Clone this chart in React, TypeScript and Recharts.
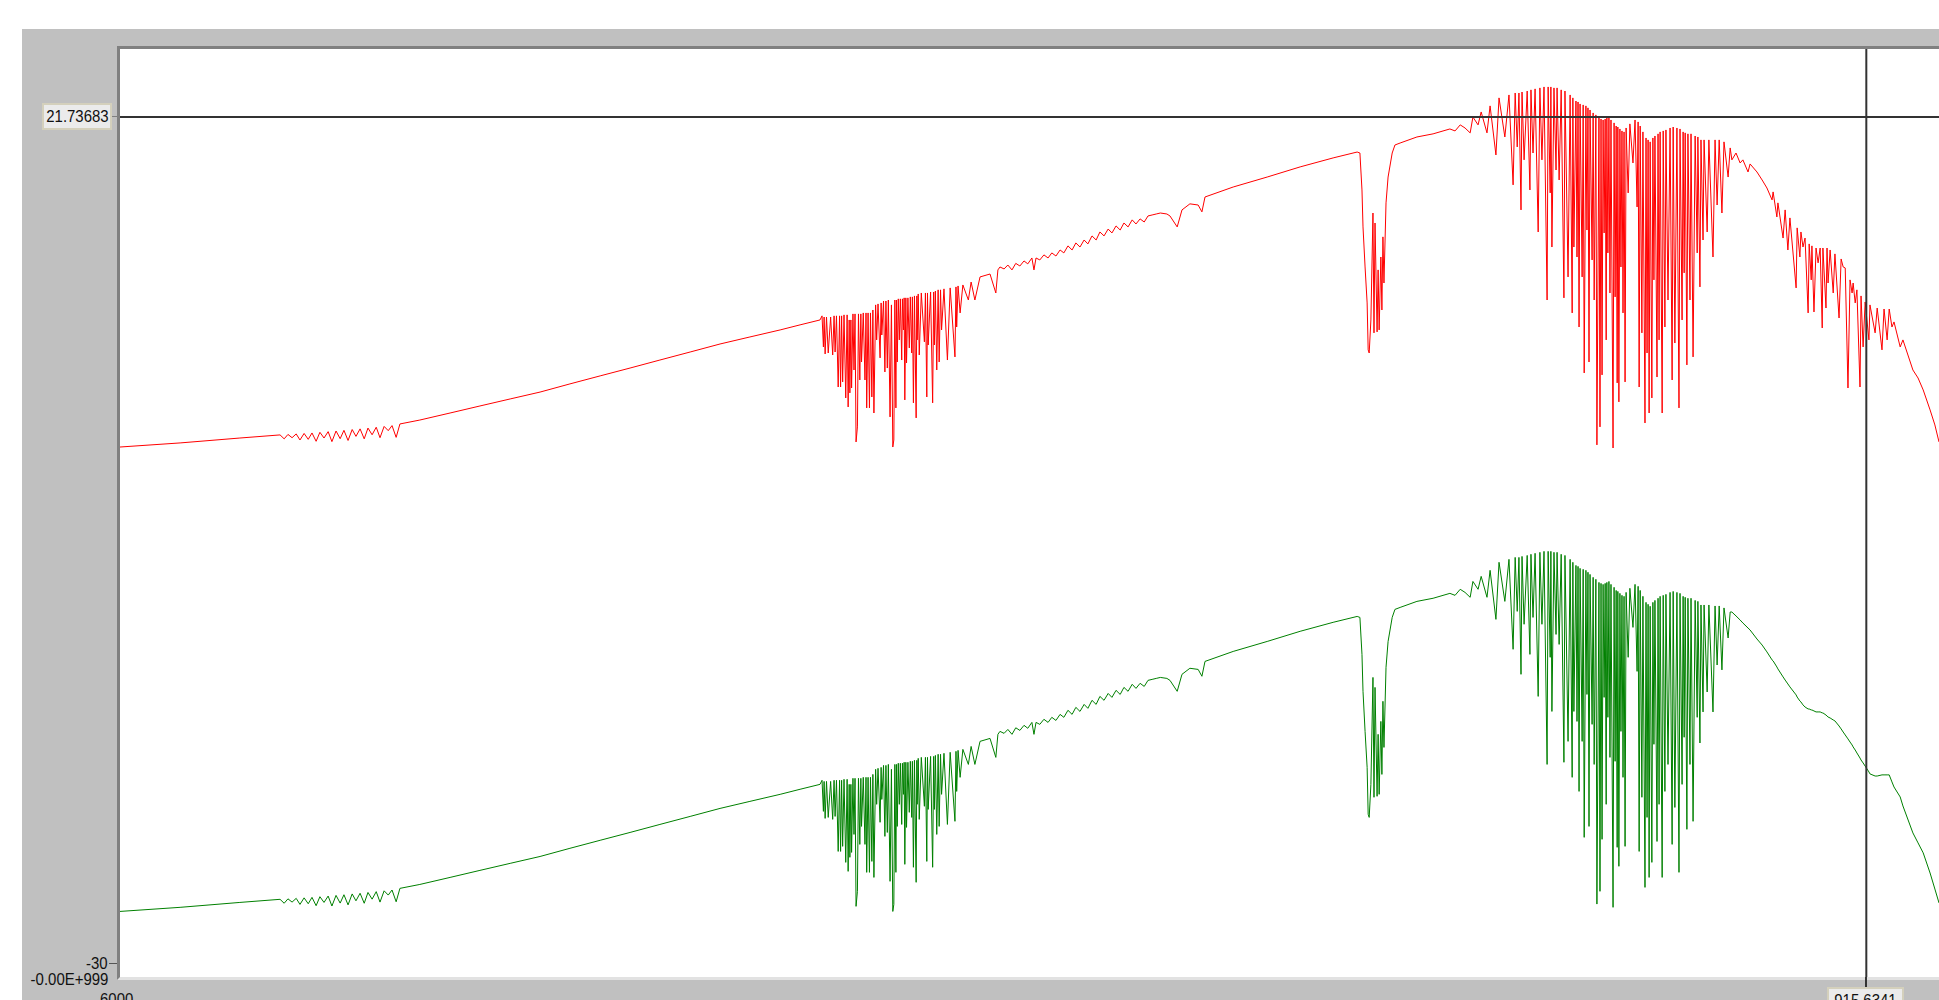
import { Line, LineChart, ReferenceLine, XAxis, YAxis } from "recharts";

// wavenumber grid and the two traces, split by spectral region
const wnBaseline = [
  6000, 5825, 5651,
  5534, 5522, 5511, 5499, 5487, 5476, 5464, 5452, 5441, 5429,
  5418, 5406, 5394, 5383, 5371, 5359, 5348, 5336, 5324, 5313,
  5301, 5289, 5278, 5266, 5254, 5243, 5231, 5219, 5208, 5196,
  5185, 5127, 5039, 4952, 4864, 4777, 4690, 4602, 4515, 4428,
  4340, 4253, 4166, 4078, 4020, 3962,
];
const topBaseline = [
  1.55, 1.8, 2.1,
  2.29, 2.05, 2.32, 2.12, 2.35, 1.98, 2.38, 2.02, 2.41, 1.9,
  2.45, 2.1, 2.49, 1.88, 2.53, 2.06, 2.57, 1.95, 2.62, 2.2,
  2.66, 2.05, 2.71, 2.3, 2.76, 2.12, 2.81, 2.55, 2.86, 2.14,
  2.96, 3.2, 3.63, 4.06, 4.49, 4.91, 5.41, 5.9, 6.38, 6.87,
  7.36, 7.85, 8.28, 8.71, 9.02, 9.32,
];
const bottomBaseline = [
  -26.85, -26.6, -26.3,
  -26.11, -26.35, -26.08, -26.28, -26.05, -26.42, -26.02, -26.38, -25.99, -26.5,
  -25.95, -26.3, -25.91, -26.52, -25.87, -26.34, -25.83, -26.45, -25.78, -26.2,
  -25.74, -26.35, -25.69, -26.1, -25.64, -26.28, -25.59, -25.85, -25.54, -26.26,
  -25.44, -25.2, -24.77, -24.34, -23.91, -23.49, -22.99, -22.5, -22.02, -21.53,
  -21.04, -20.55, -20.12, -19.69, -19.38, -19.08,
];

const wnStretch = [
  3956, 3952, 3950, 3947, 3943, 3938, 3931, 3925, 3921, 3918,
  3914, 3909, 3905, 3902, 3899, 3896, 3892, 3887, 3883, 3880,
  3877, 3875, 3872, 3870, 3866, 3863, 3860, 3857, 3853, 3850,
  3846, 3843, 3841, 3836, 3831, 3828, 3826, 3822, 3818, 3815,
  3811, 3808, 3805, 3800, 3797, 3793, 3787, 3784, 3782, 3777,
  3773, 3770, 3766, 3763, 3758, 3754, 3750, 3747, 3744, 3741,
  3739, 3737, 3734, 3731, 3728, 3724, 3722, 3719, 3717, 3715,
  3712, 3710, 3706, 3702, 3699, 3695, 3693, 3690, 3687, 3682,
  3680, 3679, 3676, 3673, 3667, 3658, 3655, 3651, 3649, 3647,
  3640, 3634, 3631, 3629, 3626, 3622, 3618, 3615, 3611, 3608,
  3601, 3591, 3583, 3569, 3566, 3564, 3560, 3554, 3546, 3530,
  3522, 3511, 3496, 3467, 3450, 3444, 3438,
];
const topStretch = [
  9.57, 7.67, 9.5, 7.24, 9.5, 7.3, 9.5, 7.18, 9.57, 7.36,
  9.57, 5.22, 9.57, 5.22, 9.57, 5.53, 9.63, 4.55, 9.63, 4.0,
  9.32, 4.86, 9.32, 5.16, 9.69, 6.26, 9.69, 1.86, 2.78, 9.69,
  5.65, 9.69, 6.75, 9.75, 5.65, 9.75, 3.94, 9.75, 3.94, 9.75,
  4.61, 9.93, 3.63, 10.24, 8.1, 10.3, 7.0, 10.36, 8.4, 10.48,
  6.14, 10.48, 6.38, 10.54, 3.39, 10.24, 1.55, 1.98, 10.54, 3.94,
  10.54, 6.75, 10.61, 8.1, 10.61, 6.87, 10.61, 8.71, 10.67, 4.43,
  10.67, 6.69, 10.67, 7.61, 10.73, 7.3, 10.73, 4.25, 10.79, 3.33,
  10.79, 8.1, 10.91, 7.18, 10.97, 7.98, 10.97, 4.61, 10.97, 7.79,
  11.03, 4.25, 11.03, 7.79, 11.09, 6.26, 11.16, 6.75, 11.16, 8.71,
  11.22, 6.87, 11.28, 7.06, 11.34, 8.89, 11.4, 9.75, 11.46, 10.54,
  11.64, 10.54, 11.95, 12.13, 10.97, 12.38, 12.56,
];
const bottomStretch = [
  -18.83, -20.73, -18.9, -21.16, -18.9, -21.1, -18.9, -21.22, -18.83, -21.04,
  -18.83, -23.18, -18.83, -23.18, -18.83, -22.87, -18.77, -23.85, -18.77, -24.4,
  -19.08, -23.54, -19.08, -23.24, -18.71, -22.14, -18.71, -26.54, -25.62, -18.71,
  -22.75, -18.71, -21.65, -18.65, -22.75, -18.65, -24.46, -18.65, -24.46, -18.65,
  -23.79, -18.47, -24.77, -18.16, -20.3, -18.1, -21.4, -18.04, -20.0, -17.92,
  -22.26, -17.92, -22.02, -17.86, -25.01, -18.16, -26.85, -26.42, -17.86, -24.46,
  -17.86, -21.65, -17.79, -20.3, -17.79, -21.53, -17.79, -19.69, -17.73, -23.97,
  -17.73, -21.71, -17.73, -20.79, -17.67, -21.1, -17.67, -24.15, -17.61, -25.07,
  -17.61, -20.3, -17.49, -21.22, -17.43, -20.42, -17.43, -23.79, -17.43, -20.61,
  -17.37, -24.15, -17.37, -20.61, -17.31, -22.14, -17.24, -21.65, -17.24, -19.69,
  -17.18, -21.53, -17.12, -21.34, -17.06, -19.51, -17.0, -18.65, -16.94, -17.86,
  -16.76, -17.86, -16.45, -16.27, -17.43, -16.02, -15.84,
];

const wnMid = [
  3426, 3415, 3403, 3392, 3380, 3368, 3357, 3345, 3339, 3333,
  3322, 3310, 3298, 3287, 3275, 3263, 3252, 3240, 3228, 3217,
  3205, 3193, 3182, 3170, 3158, 3147, 3135, 3123, 3112, 3100,
  3088, 3077, 3065, 3053, 3042, 3030, 3018, 3007, 2995, 2983,
  2971, 2952, 2943, 2922, 2908, 2885, 2861, 2850, 2841, 2759,
  2660, 2564, 2468, 2398, 2390, 2384, 2381, 2375, 2369, 2366,
  2363, 2358, 2352, 2349, 2346, 2340, 2337, 2334, 2329, 2326,
  2323, 2320, 2314, 2308, 2296, 2288, 2273, 2224, 2177,
];
const topMid = [
  12.44, 12.68, 12.38, 12.78, 12.62, 12.93, 12.75, 13.11, 12.38, 13.11,
  12.99, 13.3, 13.11, 13.42, 13.23, 13.6, 13.42, 13.85, 13.6, 14.03,
  13.78, 14.21, 13.97, 14.46, 14.21, 14.7, 14.46, 14.88, 14.64, 15.07,
  14.82, 15.25, 15.01, 15.44, 15.19, 15.5, 15.31, 15.68, 15.74, 15.8,
  15.86, 15.8, 15.68, 15.01, 16.05, 16.42, 16.35, 15.93, 16.84, 17.45,
  18.06, 18.68, 19.23, 19.59, 19.53, 17.27, 15.01, 12.56, 10.36, 7.49,
  7.3, 9.32, 15.86, 8.53, 15.25, 8.59, 12.38, 8.71, 13.17, 9.93,
  14.4, 11.58, 16.48, 18.06, 19.53, 20.02, 20.14, 20.51, 20.7,
];
const bottomMid = [
  -15.96, -15.72, -16.02, -15.62, -15.78, -15.47, -15.65, -15.29, -16.02, -15.29,
  -15.41, -15.1, -15.29, -14.98, -15.17, -14.8, -14.98, -14.55, -14.8, -14.37,
  -14.62, -14.19, -14.43, -13.94, -14.19, -13.7, -13.94, -13.52, -13.76, -13.33,
  -13.58, -13.15, -13.39, -12.96, -13.21, -12.9, -13.09, -12.72, -12.66, -12.6,
  -12.54, -12.6, -12.72, -13.39, -12.35, -11.98, -12.05, -12.47, -11.56, -10.95,
  -10.34, -9.72, -9.17, -8.81, -8.87, -11.13, -13.39, -15.84, -18.04, -20.91,
  -21.1, -19.08, -12.54, -19.87, -13.15, -19.81, -16.02, -19.69, -15.23, -18.47,
  -14.0, -16.82, -11.92, -10.34, -8.87, -8.38, -8.26, -7.89, -7.7,
];

const wnBend = [
  2128, 2113, 2098, 2084, 2069, 2061, 2046, 2037, 2020, 2011,
  1994, 1985, 1968, 1956, 1944, 1938, 1932, 1927, 1921, 1918,
  1912, 1903, 1895, 1892, 1886, 1880, 1871, 1866, 1860, 1854,
  1845, 1842, 1836, 1834, 1831, 1825, 1819, 1816, 1810, 1804,
  1796, 1793, 1784, 1778, 1772, 1770, 1767, 1761, 1758, 1755,
  1752, 1749, 1743, 1740, 1737, 1732, 1729, 1726, 1723, 1720,
  1714, 1711, 1708, 1703, 1700, 1694, 1691, 1688, 1685, 1682,
  1679, 1676, 1673, 1671, 1668, 1665, 1662, 1659, 1653, 1650,
  1647, 1644, 1641, 1639, 1636, 1633, 1630, 1627, 1624, 1621,
  1618, 1615, 1609, 1604, 1595, 1589, 1583, 1580, 1577, 1574,
  1569, 1566, 1560, 1557, 1554, 1551, 1548, 1545, 1540, 1537,
  1534, 1531, 1525, 1522, 1519, 1516, 1510, 1507, 1502, 1499,
  1493, 1487, 1481, 1478, 1473, 1467, 1461, 1458, 1452, 1449,
  1446, 1443, 1438, 1435, 1429, 1426, 1420, 1414, 1408, 1406,
];
const topBend = [
  21.0, 20.88, 21.25, 21.06, 20.76, 21.73, 21.25, 22.04, 20.76, 22.41,
  19.41, 22.9, 20.51, 23.08, 17.58, 23.2, 19.9, 23.2, 16.05, 23.26,
  19.11, 23.32, 17.27, 23.39, 19.53, 23.45, 14.7, 23.51, 19.11, 23.57,
  10.54, 23.57, 17.09, 23.57, 13.78, 23.51, 18.49, 23.51, 17.88, 23.39,
  10.67, 23.32, 11.95, 23.08, 9.75, 22.9, 13.78, 22.71, 13.17, 22.65,
  8.89, 22.53, 11.95, 22.47, 6.08, 22.41, 14.82, 22.29, 6.75, 22.16,
  12.99, 21.98, 10.54, 21.86, 1.68, 21.67, 2.78, 21.61, 5.96, 21.55,
  14.64, 21.61, 8.1, 21.67, 13.42, 21.73, 10.97, 21.55, 1.49, 21.37,
  10.73, 21.18, 5.47, 21.12, 4.31, 21.0, 12.56, 20.88, 9.75, 20.82,
  5.53, 21.06, 17.09, 21.31, 18.92, 21.55, 16.23, 21.43, 5.22, 21.18,
  8.53, 20.82, 3.02, 20.45, 7.3, 20.33, 3.63, 20.21, 4.55, 20.45,
  11.77, 20.57, 5.83, 20.7, 8.1, 20.82, 3.63, 20.88, 8.89, 20.94,
  10.54, 21.06, 5.65, 21.12, 7.91, 21.06, 3.94, 21.0, 9.32, 20.82,
  12.2, 20.76, 6.57, 20.7, 10.54, 20.7, 7.06, 20.57, 13.42, 20.51,
];
const bottomBend = [
  -7.4, -7.52, -7.15, -7.34, -7.64, -6.67, -7.15, -6.36, -7.64, -5.99,
  -8.99, -5.5, -7.89, -5.32, -10.82, -5.2, -8.5, -5.2, -12.35, -5.14,
  -9.29, -5.08, -11.13, -5.01, -8.87, -4.95, -13.7, -4.89, -9.29, -4.83,
  -17.86, -4.83, -11.31, -4.83, -14.62, -4.89, -9.91, -4.89, -10.52, -5.01,
  -17.73, -5.08, -16.45, -5.32, -18.65, -5.5, -14.62, -5.69, -15.23, -5.75,
  -19.51, -5.87, -16.45, -5.93, -22.32, -5.99, -13.58, -6.11, -21.65, -6.24,
  -15.41, -6.42, -17.86, -6.54, -26.4, -6.73, -25.62, -6.79, -22.44, -6.85,
  -13.76, -6.79, -20.3, -6.73, -14.98, -6.67, -17.43, -6.85, -26.6, -7.03,
  -17.67, -7.22, -22.93, -7.28, -24.09, -7.4, -15.84, -7.52, -18.65, -7.58,
  -22.87, -7.34, -11.31, -7.09, -9.48, -6.85, -12.17, -6.97, -23.18, -7.22,
  -19.87, -7.58, -25.38, -7.95, -21.1, -8.07, -24.77, -8.19, -23.85, -7.95,
  -16.63, -7.83, -22.57, -7.7, -20.3, -7.58, -24.77, -7.52, -19.51, -7.46,
  -17.86, -7.34, -22.75, -7.28, -20.49, -7.34, -24.46, -7.4, -19.08, -7.58,
  -16.2, -7.64, -21.83, -7.7, -17.86, -7.7, -21.34, -7.83, -14.98, -7.89,
];

const wnTail = [
  1400, 1397, 1391, 1388, 1379, 1374, 1362, 1356, 1350, 1344,
  1336, 1330, 1318, 1312, 1307, 1295, 1283, 1275, 1260, 1254,
  1234, 1219, 1205, 1190, 1187, 1176, 1173, 1158, 1152, 1144,
  1138, 1120, 1117, 1109, 1106, 1100, 1094, 1085, 1082, 1076,
  1074, 1068, 1062, 1056, 1050, 1044, 1042, 1033, 1030, 1027,
  1021, 1012, 1007, 995, 989, 983, 977, 969, 963, 957,
  954, 948, 943, 934, 931, 925, 919, 908, 905, 890,
  884, 870, 864, 855, 849, 841, 835, 817, 809, 780,
  765, 750, 730, 716, 704,
];
const topTail = [
  11.34, 20.33, 14.21, 20.33, 14.7, 20.33, 13.17, 20.33, 16.35, 20.33,
  15.86, 20.21, 18.06, 19.84, 19.11, 19.53, 18.92, 19.11, 18.37, 18.86,
  18.37, 17.88, 17.39, 16.66, 17.15, 15.62, 16.48, 14.33, 16.05, 13.6,
  15.56, 11.28, 14.95, 13.17, 14.7, 13.78, 14.33, 9.75, 13.97, 11.77,
  13.85, 9.81, 13.72, 12.81, 13.72, 8.83, 13.72, 10.05, 13.72, 11.58,
  13.6, 10.97, 13.36, 9.44, 13.05, 12.56, 12.5, 5.16, 11.77, 10.97,
  11.58, 10.36, 11.16, 5.22, 10.79, 7.67, 10.42, 8.1, 10.24, 8.53,
  10.05, 7.49, 9.99, 8.1, 9.99, 8.89, 9.2, 7.67, 8.1, 6.26,
  5.77, 5.04, 3.82, 2.9, 1.86,
];
const bottomTail = [
  -16.55, -8.11, -14.65, -8.11, -13.43, -8.11, -14.65, -8.17, -11.78, -8.17,
  -12.08, -8.29, -10.13, -8.54, -8.54, -8.78, -9.03, -9.21, -9.52, -9.64,
  -10.19, -10.56, -10.98, -11.47, -11.53, -11.9, -12.02, -12.51, -12.7, -12.94,
  -13.12, -13.61, -13.74, -13.98, -14.04, -14.22, -14.35, -14.47, -14.47, -14.53,
  -14.53, -14.59, -14.65, -14.65, -14.65, -14.71, -14.71, -14.84, -14.9, -14.96,
  -15.02, -15.14, -15.2, -15.51, -15.69, -15.88, -16.06, -16.3, -16.49, -16.67,
  -16.79, -16.98, -17.16, -17.47, -17.59, -17.77, -17.96, -18.32, -18.44, -18.57,
  -18.57, -18.5, -18.5, -18.5, -18.5, -18.93, -19.24, -19.85, -20.4, -22.05,
  -22.66, -23.27, -24.5, -25.48, -26.33,
];

const cursorX = 915.6341;
const cursorY = 21.73683;
const yTickLabel = "-30";
const yFloorLabel = "-0.00E+999";
const xStartLabel = "6000";

const wavenumbers = [...wnBaseline, ...wnStretch, ...wnMid, ...wnBend, ...wnTail];
const topTrace = [...topBaseline, ...topStretch, ...topMid, ...topBend, ...topTail];
const bottomTrace = [...bottomBaseline, ...bottomStretch, ...bottomMid, ...bottomBend, ...bottomTail];

const data = wavenumbers.map((wn, i) => ({
  wn,
  top: topTrace[i],
  bottom: bottomTrace[i],
}));

const labelFont = {
  fontFamily: "'Liberation Sans', Arial, sans-serif",
  fontSize: 17,
  lineHeight: "17px",
  color: "#111",
  whiteSpace: "nowrap" as const,
};

const boxStyle = {
  position: "absolute" as const,
  boxSizing: "border-box" as const,
  background: "#ebebeb",
  border: "2px solid #d4d0bc",
  display: "flex",
  alignItems: "center",
  justifyContent: "center",
};

export default function App() {
  return (
    <div
      style={{
        position: "fixed",
        left: 0,
        top: 0,
        width: 1939,
        height: 1000,
        background: "#fff",
        overflow: "hidden",
      }}
    >
      <div style={{ position: "absolute", left: 22, top: 29, width: 1917, height: 971, background: "#c0c0c0" }} />
      <div
        style={{
          position: "absolute",
          left: 117,
          top: 46,
          width: 1822,
          height: 934,
          boxSizing: "border-box",
          background: "#fff",
          borderTop: "3px solid #808080",
          borderLeft: "3px solid #808080",
          borderBottom: "3px solid #e2e2e2",
        }}
      />
      <div style={{ position: "absolute", left: 120, top: 49 }}>
        <LineChart width={1819} height={928} data={data} margin={{ top: 0, right: 0, bottom: 0, left: 0 }}>
          <XAxis dataKey="wn" type="number" domain={[704, 6000]} reversed hide allowDataOverflow />
          <YAxis type="number" domain={[-30.86, 25.89]} hide allowDataOverflow />
          <Line dataKey="top" type="linear" stroke="#ff0000" strokeWidth={1} dot={false} activeDot={false} isAnimationActive={false} />
          <Line dataKey="bottom" type="linear" stroke="#008000" strokeWidth={1} dot={false} activeDot={false} isAnimationActive={false} />
          <ReferenceLine y={cursorY} stroke="#333" strokeWidth={2} />
          <ReferenceLine x={cursorX} stroke="#333" strokeWidth={2} />
        </LineChart>
      </div>

      {/* cursor readouts and axis labels */}
      <div style={{ position: "absolute", left: 112, top: 116, width: 5, height: 1, background: "#808080" }} />
      <div style={{ ...boxStyle, left: 42, top: 103, width: 70, height: 27 }}>
        <span style={{ ...labelFont, transform: "scaleX(0.88)" }}>{cursorY}</span>
      </div>

      <div style={{ position: "absolute", left: 109, top: 963, width: 8, height: 1, background: "#555" }} />
      <div style={{ ...labelFont, position: "absolute", right: 1831, top: 955, transform: "scaleX(0.88)", transformOrigin: "right" }}>
        {yTickLabel}
      </div>
      <div style={{ ...labelFont, position: "absolute", right: 1831, top: 971, transform: "scaleX(0.88)", transformOrigin: "right" }}>
        {yFloorLabel}
      </div>
      <div style={{ ...labelFont, position: "absolute", left: 100, top: 991, transform: "scaleX(0.88)", transformOrigin: "left" }}>
        {xStartLabel}
      </div>

      <div style={{ position: "absolute", left: 1865, top: 977, width: 2, height: 10, background: "#333" }} />
      <div style={{ ...boxStyle, left: 1827, top: 987, width: 77, height: 27, alignItems: "flex-start", paddingTop: 3 }}>
        <span style={{ ...labelFont, transform: "scaleX(0.88)" }}>{cursorX}</span>
      </div>
    </div>
  );
}
